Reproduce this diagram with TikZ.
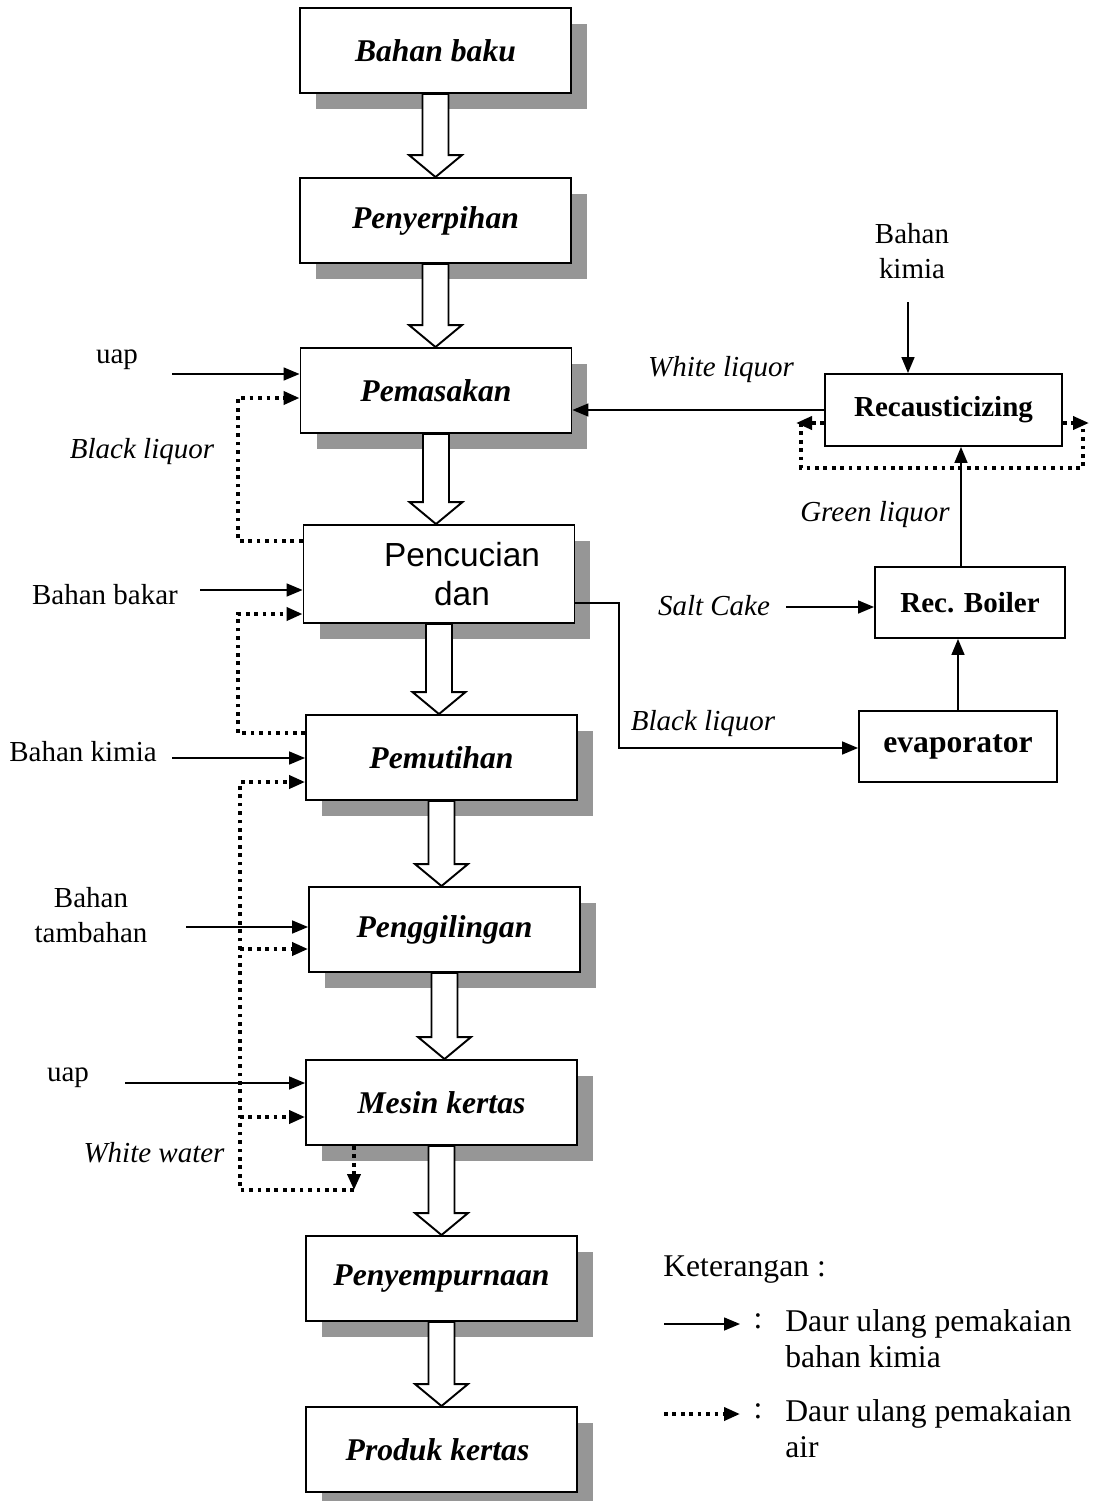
\documentclass[tikz,border=0pt]{standalone}
\usepackage{fontspec}
\setmainfont{Liberation Serif}
\newfontfamily\pencfont{Liberation Sans}
\usetikzlibrary{arrows.meta, positioning, calc, shadows}
\definecolor{boxShadow}{HTML}{969696}
\tikzset{
  procbox/.style={rectangle, draw=black, line width=1.1pt, fill=white,
    minimum width=5.42cm, minimum height=1.7cm, align=center,
    font=\fontsize{18}{21}\selectfont\bfseries\itshape,
    drop shadow={shadow xshift=0.32cm, shadow yshift=-0.32cm, fill=boxShadow, opacity=1}},
  unitbox/.style={rectangle, draw=black, line width=1.1pt, fill=white,
    align=center, font=\fontsize{16.5}{19}\selectfont\bfseries},
  lbl/.style={font=\fontsize{16.5}{19.5}\selectfont, align=center, inner sep=0pt},
  lblit/.style={lbl, font=\fontsize{16.5}{19.5}\selectfont\itshape},
  keytext/.style={lbl, align=left, anchor=west, font=\fontsize{18}{20.5}\selectfont},
  feed/.style={-{Triangle[length=0.32cm, width=0.26cm]}, line width=0.9pt},
  water/.style={line width=2.1pt, dash pattern=on 2.1pt off 2.7pt},
  waterarrow/.style={water, -{Triangle[length=0.32cm, width=0.26cm]}},
  hollow/.style={draw=black, fill=white, line width=1.1pt, line join=miter}
}
% big open arrow between two process boxes
\newcommand{\flowarrow}[2]{%
  \draw[hollow] let \p1=(#1.south), \p2=(#2.north) in
    (\x1-0.26cm,\y1) -- (\x1-0.26cm,\y2+0.44cm) -- (\x1-0.53cm,\y2+0.44cm)
    -- (\x1,\y2) -- (\x1+0.53cm,\y2+0.44cm) -- (\x1+0.26cm,\y2+0.44cm)
    -- (\x1+0.26cm,\y1) -- cycle;}

\begin{document}
\begin{tikzpicture}[x=0.02cm, y=-0.02cm]
  \useasboundingbox (0,0) rectangle (1097,1501);

  % main process line
  \foreach \name/\x/\y/\txt in {
      raw/435.5/50.5/{Bahan baku},
      chip/435.5/220.5/{Penyerpihan},
      cook/436/390.5/{Pemasakan},
      bleach/441.5/757.5/{Pemutihan},
      mill/444.5/929.5/{Penggilingan},
      paper/441.5/1102.5/{Mesin kertas},
      finish/441.5/1278.5/{Penyempurnaan},
      product/441.5/1449.5/{Produk kertas}
    }{
      \node[procbox] (\name) at (\x,\y) {\txt};
    }
  \node[procbox, minimum height=1.96cm, font=\pencfont\fontsize{19}{22}\selectfont] (wash) at (439,574)
    {\hspace*{0.92cm}Pencucian\\\hspace*{0.92cm}dan};

  \foreach \a/\b in {raw/chip, chip/cook, cook/wash, wash/bleach,
      bleach/mill, mill/paper, paper/finish, finish/product}
    {\flowarrow{\a}{\b}}

  % recovery units
  \node[unitbox, minimum width=4.74cm, minimum height=1.44cm] (recaust) at (943.5,410) {Recausticizing};
  \node[unitbox, minimum width=3.8cm, minimum height=1.42cm] (boiler) at (970,602.5) {Rec. Boiler};
  \node[unitbox, minimum width=3.96cm, minimum height=1.42cm,
    font=\fontsize{18}{21}\selectfont\bfseries] (evap) at (958,746.5) {evaporator};

  % labels
  \node[lbl] (uapA) at (117,360) {uap};
  \node[lblit] (blackA) at (142,452) {Black liquor};
  \node[lbl] (fuel) at (105,595) {Bahan bakar};
  \node[lbl] (chemA) at (83,752) {Bahan kimia};
  \node[lbl] (additive) at (91,915) {Bahan\\tambahan};
  \node[lbl] (uapB) at (68,1078) {uap};
  \node[lblit] (whitewater) at (154,1153) {White water};
  \node[lbl] (chemB) at (912,251) {Bahan\\kimia};
  \node[lblit] (whiteliq) at (721,370) {White liquor};
  \node[lblit] (greenliq) at (875,515) {Green liquor};
  \node[lblit] (saltcake) at (714,606) {Salt Cake};
  \node[lblit] (blackB) at (703,724) {Black liquor};

  % inputs
  \coordinate (uapA0) at (172,374);
  \coordinate (fuel0) at (200,590);
  \coordinate (chemA0) at (172,758);
  \coordinate (additive0) at (186,927);
  \coordinate (uapB0) at (125,1083);
  \draw[feed] (uapA0) -- (uapA0 -| cook.west);
  \draw[feed] (fuel0) -- (fuel0 -| wash.west);
  \draw[feed] (chemA0) -- (chemA0 -| bleach.west);
  \draw[feed] (additive0) -- (additive0 -| mill.west);
  \draw[feed] (uapB0) -- (uapB0 -| paper.west);

  % water recycle
  \coordinate (ret1) at (238,541);
  \coordinate (ret2) at (238,398);
  \coordinate (ret3) at (238,733);
  \coordinate (ret4) at (238,614);
  \draw[waterarrow] (ret1 -| wash.west) -- (ret1) -- (ret2) -- (ret2 -| cook.west);
  \draw[waterarrow] (ret3 -| bleach.west) -- (ret3) -- (ret4) -- (ret4 -| wash.west);

  \coordinate (ww) at (354,1190);
  \coordinate (ww1) at (240,1190);
  \coordinate (ww2) at (240,782);
  \draw[waterarrow] (ww |- paper.south) -- (ww);
  \draw[waterarrow] (ww) -- (ww1) -- (ww2) -- (ww2 -| bleach.west);
  \foreach \y/\unit in {949/mill, 1117/paper}{
    \coordinate (tap) at (240,\y);
    \draw[waterarrow] (tap) -- (tap -| \unit.west);
  }

  % chemical recovery loop
  \coordinate (chemB0) at (908,302);
  \draw[feed] (chemB0) -- (chemB0 |- recaust.north);
  \draw[feed] (recaust.west) -- (recaust.west -| cook.east);

  \coordinate (loopL) at (801,423);
  \coordinate (loopR) at (1083,423);
  \draw[waterarrow] (loopL -| recaust.west) -- ([xshift=-0.1cm]loopL);
  \draw[waterarrow] (loopR -| recaust.east) -- ([xshift=0.12cm]loopR);
  \draw[water] (loopL) -- ++(0,45) -| (loopR);

  \coordinate (glq) at ([xshift=-0.18cm]boiler.north);
  \draw[feed] (glq) -- (glq |- recaust.south);
  \coordinate (salt0) at (786,607);
  \draw[feed] (salt0) -- (salt0 -| boiler.west);
  \draw[feed] (evap.north) -- (evap.north |- boiler.south);

  \coordinate (bl3) at (619,603);
  \coordinate (bl4) at (619,748);
  \draw[feed] (bl3 -| wash.east) -- (bl3) -- (bl4) -- (bl4 -| evap.west);

  % legend
  \node[keytext] (keyTitle) at (663,1270) {Keterangan :};
  \coordinate (key1a) at (664,1324);
  \coordinate (key1b) at (740,1324);
  \coordinate (key2a) at (664,1414);
  \coordinate (key2b) at (740,1414);
  \draw[feed] (key1a) -- (key1b);
  \draw[waterarrow] (key2a) -- (key2b);
  \node[lbl, font=\fontsize{18}{20.5}\selectfont] (colon1) at (758,1321) {:};
  \node[lbl, font=\fontsize{18}{20.5}\selectfont] (colon2) at (758,1411) {:};
  \node[keytext] (key1txt) at (785,1339) {Daur ulang pemakaian\\bahan kimia};
  \node[keytext] (key2txt) at (785,1429) {Daur ulang pemakaian\\air};
\end{tikzpicture}
\end{document}
